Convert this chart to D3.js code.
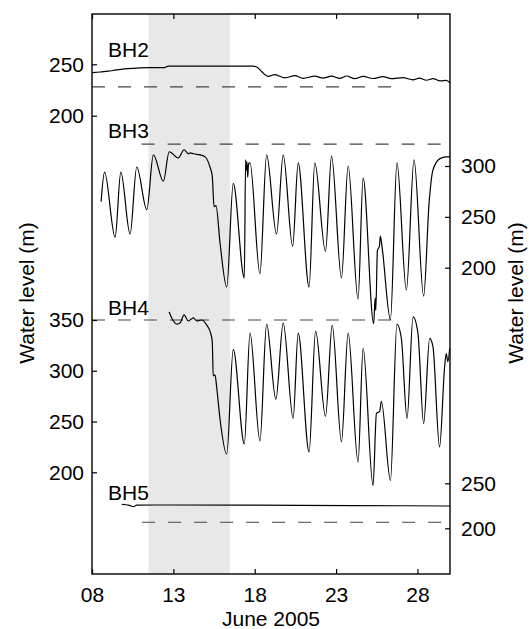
<!DOCTYPE html>
<html>
<head>
<meta charset="utf-8">
<script src="https://cdn.jsdelivr.net/npm/d3@7"></script>
<style>
  body { margin: 0; background: #fff; }
  svg { display: block; font-family: "Liberation Sans", Arial, Helvetica, sans-serif; }
</style>
</head>
<body>
<svg id="chart" width="529" height="629"></svg>
<script>
// x positions are days of June 2005 (fractional)
const dayTicks = [8, 13, 18, 23, 28];
const shadeDays = [11.47, 16.48];

// BH2 (left axis, upper)
const bh2 = [
  [8.0, 241.8], [8.5, 242.5], [9.0, 243.3], [9.5, 244.5], [10.0, 245.5], [10.5, 246.1],
  [11.5, 246.7], [12.45, 246.8], [12.7, 248.3], [17.9, 248.3], [18.15, 247.2], [18.45, 242.5],
  [18.83, 238.3], [19.24, 240.0], [19.85, 236.8], [20.47, 239.0], [20.98, 236.3], [21.69, 238.5],
  [22.2, 236.5], [22.72, 238.5], [23.23, 236.3], [23.64, 238.6], [24.15, 236.0], [24.66, 238.2],
  [25.27, 236.2], [25.88, 238.0], [26.4, 236.0], [27.11, 237.0], [27.72, 234.8], [28.13, 236.5],
  [28.55, 234.5], [28.95, 236.0], [29.4, 233.8], [29.77, 234.3], [30.0, 232.0]
];

// BH3 (right axis, upper)
const bh3 = [
  [8.56, 265], [8.77, 294], [9.42, 230], [9.77, 294], [10.34, 233], [10.75, 299], [11.37, 257],
  [11.77, 311], [12.39, 285], [12.74, 314], [13.31, 308], [13.66, 316], [13.92, 312], [14.05, 313],
  [14.23, 312], [14.64, 311], [14.95, 309], [15.25, 299], [15.39, 290], [15.5, 260], [15.62, 261],
  [15.87, 224], [16.28, 181], [16.68, 283], [17.36, 190], [17.44, 306], [17.48, 296], [17.52, 304],
  [17.57, 289], [17.62, 302], [17.71, 303], [18.32, 194], [18.73, 311], [19.34, 233], [19.75, 311],
  [20.33, 221], [20.67, 303], [21.34, 181], [21.69, 303], [22.35, 216], [22.72, 310], [23.33, 190],
  [23.74, 300], [24.35, 169], [24.66, 288], [25.31, 145], [25.4, 170], [25.44, 158], [25.54, 217],
  [25.66, 221], [25.72, 231], [25.82, 221], [26.34, 149], [26.74, 303], [27.32, 178], [27.79, 306],
  [28.38, 172], [28.72, 265], [28.95, 296], [29.36, 307], [29.77, 309], [30.0, 309]
];

// BH4 (left axis, lower)
const bh4 = [
  [12.74, 358], [12.9, 352], [13.21, 346], [13.41, 347], [13.66, 355], [13.92, 349], [14.1, 351],
  [14.23, 352], [14.44, 349], [14.74, 350], [15.05, 345], [15.29, 337], [15.39, 329], [15.45, 295],
  [15.56, 296], [15.66, 284], [15.87, 252], [16.28, 218], [16.68, 321], [17.36, 228], [17.71, 337],
  [18.32, 231], [18.73, 346], [19.3, 272], [19.75, 347], [20.36, 253], [20.67, 337], [21.34, 220],
  [21.74, 339], [22.35, 255], [22.76, 345], [23.33, 230], [23.74, 337], [24.35, 210], [24.66, 322],
  [25.27, 187], [25.48, 258], [25.68, 260], [25.78, 270], [26.34, 192], [26.74, 346], [27.01, 332],
  [27.36, 253], [27.73, 353], [28.03, 337], [28.38, 248], [28.75, 332], [28.95, 324], [29.36, 225],
  [29.67, 304], [29.77, 317], [29.87, 309], [29.98, 322]
];

// BH5 (right axis, lower)
const bh5 = [
  [9.83, 226.5], [10.3, 225.5], [10.55, 224.0], [10.75, 225.8], [13.0, 225.9], [18.0, 225.7],
  [24.0, 225.3], [30.0, 224.8]
];

// dashed reference levels: [value, fromDay, toDay]
const bh2Ref = [228, 8, 26.5];
const bh3Ref = [321.6, 11.05, 30];
const bh4Ref = [350, 8, 26.5];
const bh5Ref = [206.7, 11.08, 30];

const leftTicksBH2 = [200, 250];
const leftTicksBH4 = [200, 250, 300, 350];
const rightTicksBH3 = [200, 250, 300];
const rightTicksBH5 = [200, 250];

const svg = d3.select("#chart");
const plotLeft = 92, plotRight = 450, plotTop = 14, plotBottom = 574;
const fontSize = 21;

const x = d3.scaleLinear().domain([8, 30]).range([plotLeft, plotRight]);
const yBH2 = d3.scaleLinear().domain([200, 250]).range([115.7, 64.3]);
const yBH3 = d3.scaleLinear().domain([200, 300]).range([267.7, 166]);
const yBH4 = d3.scaleLinear().domain([200, 350]).range([472.3, 320]);
const yBH5 = d3.scaleLinear().domain([200, 250]).range([528.3, 483.3]);

// shaded period
svg.append("rect")
  .attr("x", x(shadeDays[0]))
  .attr("y", plotTop)
  .attr("width", x(shadeDays[1]) - x(shadeDays[0]))
  .attr("height", plotBottom - plotTop)
  .attr("fill", "#e8e8e8");

// dashed levels
const refs = [[bh2Ref, yBH2], [bh3Ref, yBH3], [bh4Ref, yBH4], [bh5Ref, yBH5]];
refs.forEach(([r, y]) => {
  svg.append("line")
    .attr("x1", x(r[1])).attr("x2", x(r[2]))
    .attr("y1", y(r[0])).attr("y2", y(r[0]))
    .attr("stroke", "#444")
    .attr("stroke-width", 1.2)
    .attr("stroke-dasharray", "13,13");
});

// series lines
const series = [[bh2, yBH2], [bh3, yBH3], [bh4, yBH4], [bh5, yBH5]];
series.forEach(([d, y]) => {
  const line = d3.line()
    .x((p) => x(p[0]))
    .y((p) => y(p[1]))
    .curve(d3.curveMonotoneX);
  svg.append("path")
    .datum(d)
    .attr("d", line)
    .attr("fill", "none")
    .attr("stroke", "#000")
    .attr("stroke-width", 1.2);
});

// axes
const styleAxis = (g) => {
  g.select(".domain").remove();
  g.selectAll(".tick line").attr("stroke", "#000").attr("stroke-width", 1.2);
  g.selectAll(".tick text").attr("fill", "#000").attr("font-size", fontSize);
};

svg.append("g")
  .attr("transform", `translate(0,${plotBottom})`)
  .call(d3.axisBottom(x).tickValues(dayTicks).tickFormat(d3.format("02d")).tickSizeInner(-5).tickSizeOuter(0).tickPadding(13))
  .call(styleAxis);

svg.append("g")
  .attr("transform", `translate(0,${plotTop})`)
  .call(d3.axisTop(x).tickValues(dayTicks).tickFormat("").tickSizeInner(-5).tickSizeOuter(0))
  .call(styleAxis);

[[yBH2, leftTicksBH2], [yBH4, leftTicksBH4]].forEach(([y, t]) => {
  svg.append("g")
    .attr("transform", `translate(${plotLeft},0)`)
    .call(d3.axisLeft(y).tickValues(t).tickSizeInner(-5).tickSizeOuter(0).tickPadding(8))
    .call(styleAxis);
});

[[yBH3, rightTicksBH3], [yBH5, rightTicksBH5]].forEach(([y, t]) => {
  svg.append("g")
    .attr("transform", `translate(${plotRight},0)`)
    .call(d3.axisRight(y).tickValues(t).tickSizeInner(-5).tickSizeOuter(0).tickPadding(11))
    .call(styleAxis);
});

// frame
svg.append("rect")
  .attr("x", plotLeft).attr("y", plotTop)
  .attr("width", plotRight - plotLeft).attr("height", plotBottom - plotTop)
  .attr("fill", "none")
  .attr("stroke", "#000")
  .attr("stroke-width", 1.4);

// borehole labels
const labels = [["BH2", yBH2, 257.4], ["BH3", yBH3, 327.2], ["BH4", yBH4, 354.9], ["BH5", yBH5, 231.2]];
labels.forEach(([t, y, v]) => {
  svg.append("text")
    .attr("x", 108)
    .attr("y", y(v))
    .attr("font-size", fontSize)
    .text(t);
});

// axis titles
svg.append("text")
  .attr("text-anchor", "middle")
  .attr("x", (plotLeft + plotRight) / 2)
  .attr("y", 626)
  .attr("font-size", fontSize)
  .text("June 2005");

svg.append("text")
  .attr("text-anchor", "middle")
  .attr("transform", "translate(34,293) rotate(-90)")
  .attr("font-size", fontSize)
  .text("Water level (m)");

svg.append("text")
  .attr("text-anchor", "middle")
  .attr("transform", "translate(523,293) rotate(-90)")
  .attr("font-size", fontSize)
  .text("Water level (m)");
</script>
</body>
</html>
